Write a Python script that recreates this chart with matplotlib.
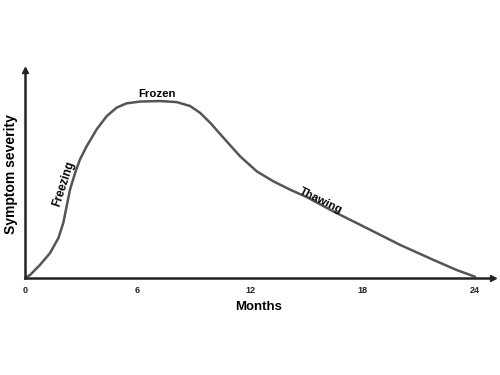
import numpy as np
import matplotlib.pyplot as plt

plt.rcParams['font.family'] = ['Liberation Sans', 'DejaVu Sans']

# severity curve (months, relative severity)
months = [0, 0.27, 0.8, 1.33, 1.78, 2.04, 2.22, 2.4, 2.67, 2.93, 3.29, 3.82,
          4.36, 4.89, 5.42, 6.13, 7.2, 8.09, 8.8, 9.33, 9.87, 10.58, 11.47,
          12.36, 13.24, 14.13, 15.02, 16.44, 18.22, 20.0, 21.78, 23.02, 24.0]
severity = [0, 1.7, 7.4, 14.0, 22.5, 31.0, 40.4, 49.9, 59.3, 66.9, 74.4, 83.9,
            91.4, 96.2, 98.6, 99.6, 99.9, 99.3, 97.1, 93.3, 87.7, 79.2, 68.7,
            60.2, 54.6, 49.9, 45.7, 37.6, 28.2, 18.7, 10.2, 4.5, 0.7]
tick_pos = [0, 6, 12, 18, 24]
tick_lbl = ['0', '6', '12', '18', '24']

fig = plt.figure(figsize=(5, 3.75), dpi=100)
ax = fig.add_axes([0.05, 0.2587, 0.935, 0.555])

ax.plot(months, severity, color='#555555', lw=1.8,
        solid_capstyle='round', solid_joinstyle='round')

ax.set_xlim(0, 24.93)
ax.set_ylim(0, 117.5)

for s in ['top', 'right']:
    ax.spines[s].set_visible(False)
for s in ['left', 'bottom']:
    ax.spines[s].set_color('#222222')
    ax.spines[s].set_linewidth(1.8)

# arrow heads
ax.plot(1, 0, '>', color='#222222', ms=5, transform=ax.get_yaxis_transform(), clip_on=False)
ax.plot(0, 1, '^', color='#222222', ms=5, transform=ax.get_xaxis_transform(), clip_on=False)

ax.set_xticks(tick_pos)
ax.set_xticklabels(tick_lbl, fontsize=6.5, fontweight='bold', color='#222222')
ax.tick_params(axis='x', length=0, pad=6)
ax.set_yticks([])

ax.set_xlabel('Months', fontsize=9.5, fontweight='bold', labelpad=4)
ax.set_ylabel('Symptom severity', fontsize=10, fontweight='bold', labelpad=5)

ax.text(7.05, 101.3, 'Frozen', fontsize=8.2, fontweight='bold', ha='center', va='bottom')
ax.text(2.05, 53, 'Freezing', fontsize=8.3, fontweight='bold', rotation=72,
        ha='center', va='center')
ax.text(15.8, 43.8, 'Thawing', fontsize=8.2, fontweight='bold', rotation=-26,
        ha='center', va='center')

fig.savefig('out.png', dpi=100)
